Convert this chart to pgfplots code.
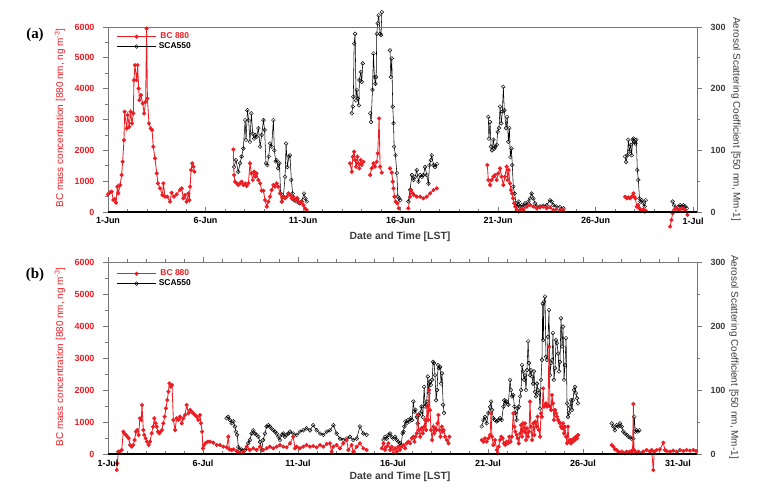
\documentclass[border=0pt]{standalone}
\usepackage{pgfplots}
\pgfplotsset{compat=1.18}
\usepackage{fontspec}
\setmainfont{Liberation Sans}
\newfontfamily\serifbf{Liberation Serif}
\definecolor{bcred}{RGB}{236,30,36}
\definecolor{axgray}{RGB}{120,120,120}
\definecolor{lblgray}{RGB}{60,60,60}

\pgfplotsset{
  panel/.style={scale only axis, width=589bp, xmin=0, ymin=0, clip=false, unbounded coords=jump,
     axis line style={axgray, line width=0.7pt}, tick style={axgray, line width=0.7pt},
     major tick length=5bp, minor tick length=3bp,
     tick label style={font=\fontsize{9}{10}\selectfont\bfseries},
     /pgf/number format/assume math mode=true, /pgf/number format/1000 sep={}, scaled y ticks=false},
  bcstyle/.style={bcred, line width=0.85pt, mark=*, mark size=1.6pt, mark options={solid, fill=bcred, draw=bcred}},
  scastyle/.style={black, line width=0.55pt, mark=o, mark size=1.9pt, mark options={solid, line width=0.45pt}},
  legimg/.style={legend image code/.code={\draw[mark repeat=2,mark phase=2,##1] plot coordinates {(0cm,0cm) (0.7cm,0cm) (1.4cm,0cm)};}},
}

\begin{document}
\begin{tikzpicture}
\path[use as bounding box] (0bp,0bp) rectangle (764bp,-495bp);

% ================= TOP PANEL (a) =================
\begin{axis}[panel, at={(108bp,-27bp)}, anchor=north west, height=185bp, xmax=30.2, ymax=300,
  axis y line*=right, axis x line=none, ytick={0,100,200,300}, minor ytick={50,150,250}, tick align=outside,
  yticklabel style={text=lblgray, xshift=5bp}]
\addplot[scastyle] coordinates {
(6.46,73) (6.56,84) (6.68,65) (6.77,79) (6.85,90) (6.94,103) (7.03,149) (7.08,117) (7.15,165) (7.21,149) (7.28,114) (7.35,160) (7.42,127) (7.49,119) (7.56,125) (7.62,122) (7.71,136) (7.80,106) (7.88,125) (7.97,149) (8.03,133) (8.10,79) (8.17,76) (8.24,90) (8.31,111) (8.39,106) (8.48,149) (8.53,100) (8.60,82) (8.65,84) (8.72,71) (8.79,79) (8.85,30) (8.92,17) (8.99,25) (9.08,57) (9.13,111) (9.20,73) (9.27,90) (9.33,92) (9.40,52) (9.47,30) (9.54,19) (9.64,17) (9.71,22) (9.81,14) (9.93,17) (10.05,30) (10.12,22) (10.19,17)
(11.0,nan)
(12.50,160) (12.55,171) (12.58,187) (12.62,273) (12.67,289) (12.72,181) (12.75,198) (12.81,184) (12.86,173) (12.89,214) (12.96,227) (13.01,211) (13.06,241)
(13.25,nan)
(13.44,160) (13.49,146) (13.56,198) (13.61,257) (13.66,219) (13.71,208) (13.75,219) (13.78,289) (13.83,306) (13.88,319) (13.95,289) (14.00,287) (14.04,324)
(14.25,nan)
(14.46,262) (14.50,219) (14.55,249) (14.60,171) (14.64,144) (14.67,106) (14.74,92) (14.81,63) (14.86,25) (14.93,22) (14.98,19)
(15.2,nan)
(15.40,17) (15.49,36) (15.58,60) (15.66,52) (15.75,57) (15.83,68) (15.92,49) (16.00,60) (16.09,57) (16.17,60) (16.26,73) (16.34,60) (16.43,46) (16.48,76) (16.55,84) (16.60,92) (16.69,76) (16.77,73) (16.86,78)
(18.0,nan)
(19.50,154) (19.53,119) (19.59,146) (19.64,106) (19.69,100) (19.76,117) (19.81,103) (19.86,106) (19.93,109) (19.98,130) (20.05,136) (20.10,171) (20.17,144) (20.22,163) (20.27,203) (20.32,165) (20.41,136) (20.47,154) (20.53,114) (20.58,136) (20.63,89) (20.68,103) (20.73,76) (20.78,41) (20.85,30) (20.92,14) (20.99,9) (21.06,17) (21.12,9) (21.21,11) (21.30,9) (21.38,14) (21.47,11) (21.55,17) (21.64,22) (21.72,30) (21.81,22) (21.89,14) (21.98,9) (22.15,9) (22.32,10) (22.49,11) (22.66,19) (22.75,17) (22.83,11) (22.98,9) (23.18,8) (23.35,6)
(25.0,nan)
(26.51,90) (26.56,81) (26.63,92) (26.68,117) (26.73,98) (26.80,109) (26.85,92) (26.90,117) (26.94,119) (26.99,114) (27.04,111) (27.09,117) (27.14,68) (27.19,52) (27.25,22) (27.30,17) (27.36,19) (27.45,14) (27.52,9) (27.57,19)
(28.2,nan)
(28.95,17) (29.02,11) (29.13,6) (29.25,9) (29.33,11) (29.42,9) (29.50,11) (29.59,9) (29.67,6)
};
\end{axis}

\begin{axis}[panel, at={(108bp,-27bp)}, anchor=north west, height=185bp, xmax=30.2, ymax=6000,
  ytick={0,1000,...,6000}, minor ytick={500,1500,...,5500}, ytick pos=left, xtick=\empty, tick align=outside,
  yticklabel style={text=bcred, xshift=-5bp}, legimg,
  legend style={at={(axis description cs:0.012,0.985)}, anchor=north west, draw=none, fill=none,
    font=\fontsize{8.5}{10}\selectfont\bfseries, inner sep=1pt, row sep=-1.5bp}]
\addplot[bcstyle] coordinates {
(0.00,572) (0.10,640) (0.19,659) (0.27,389) (0.35,420) (0.41,302) (0.48,821) (0.53,605) (0.62,875) (0.70,1199) (0.75,1631) (0.82,2333) (0.85,3251) (0.96,2711) (1.01,3143) (1.09,2765) (1.16,3251) (1.23,2873) (1.30,3197) (1.33,4277) (1.38,4763) (1.47,4277) (1.52,4763) (1.57,4007) (1.61,3629) (1.69,3791) (1.78,3521) (1.85,3197) (1.93,3575) (1.98,5951) (2.02,3683) (2.10,2873) (2.19,2711) (2.26,2657) (2.32,2117) (2.41,1739) (2.50,1253) (2.56,929) (2.67,767) (2.79,551) (2.84,929) (2.92,497) (3.04,497) (3.18,335) (3.26,626) (3.38,497) (3.52,572) (3.69,713) (3.78,767) (3.86,443) (3.95,551) (4.03,335) (4.12,605) (4.17,389) (4.21,821) (4.26,1361) (4.32,1577) (4.38,1469) (4.43,1307)
(5.0,nan)
(6.43,2030) (6.46,1199) (6.51,983) (6.60,929) (6.68,875) (6.77,929) (6.85,983) (6.94,875) (7.03,929) (7.11,842) (7.20,929) (7.28,1577) (7.35,1253) (7.42,1037) (7.49,1307) (7.56,1145) (7.62,1253) (7.71,1037) (7.80,929) (7.88,691) (7.97,691) (8.05,389) (8.14,173) (8.22,335) (8.31,497) (8.39,713) (8.48,875) (8.56,821) (8.65,929) (8.73,821) (8.82,605) (8.91,335) (8.99,497) (9.08,443) (9.16,497) (9.25,605) (9.33,551) (9.42,443) (9.50,497) (9.59,389) (9.68,443) (9.76,335) (9.85,281) (9.93,335) (10.02,227) (10.10,119) (10.19,65)
(11.0,nan)
(12.41,1577) (12.50,1307) (12.55,1793) (12.62,1955) (12.67,1685) (12.72,1469) (12.79,1793) (12.84,1577) (12.89,1415) (12.96,1685) (13.01,1523) (13.10,1631)
(13.25,nan)
(13.44,1199) (13.52,1415) (13.61,1577) (13.69,1469) (13.78,1631) (13.83,1901) (13.90,3035) (13.95,1469) (14.04,1275)
(14.25,nan)
(14.46,1415) (14.55,1275) (14.60,983) (14.64,767) (14.69,497) (14.75,335) (14.84,281) (14.91,119)
(15.2,nan)
(15.40,119) (15.49,497) (15.54,713) (15.63,605) (15.69,551) (15.83,497) (16.00,497) (16.17,443) (16.34,497) (16.52,605) (16.69,713) (16.86,767)
(18.0,nan)
(19.45,1523) (19.50,1037) (19.59,875) (19.67,1037) (19.76,1145) (19.84,1199) (19.93,1037) (20.01,1253) (20.10,1415) (20.18,1145) (20.27,875) (20.35,1145) (20.44,1469) (20.49,1037) (20.54,1361) (20.61,929) (20.66,713) (20.71,605) (20.77,443) (20.82,281) (20.88,173) (20.95,65) (21.04,11) (21.12,65) (21.21,119) (21.30,65) (21.47,173) (21.64,227) (21.81,173) (21.98,119) (22.15,151) (22.32,173) (22.49,119) (22.66,151) (22.83,65) (22.98,86) (23.18,65) (23.35,65)
(25.0,nan)
(26.51,497) (26.60,443) (26.68,475) (26.77,443) (26.85,497) (26.94,605) (26.99,497) (27.04,443) (27.11,173) (27.18,227) (27.25,119) (27.31,65) (27.38,43) (27.45,86) (27.52,11) (27.57,43)
(28.2,nan)
(28.82,-475) (28.89,-259) (28.95,-43) (29.02,65) (29.13,119) (29.25,65) (29.33,86) (29.47,119) (29.59,65) (29.71,-97)
};
\addlegendentry{\textcolor{bcred}{BC 880}}
\addlegendimage{scastyle}
\addlegendentry{SCA550}
\end{axis}

\begin{axis}[panel, at={(108bp,-27bp)}, anchor=north west, height=185bp, xmax=30.2, ymax=6000,
  axis x line*=bottom, axis y line=none, xtick={0,5,...,30},
  xticklabels={1-Jun,6-Jun,11-Jun,16-Jun,21-Jun,26-Jun,1-Jul}, minor x tick num=4, tick align=inside,
  x axis line style={black, line width=1.1pt}, xticklabel style={yshift=-2bp}]
\end{axis}

% ================= BOTTOM PANEL (b) =================
\begin{axis}[panel, at={(108bp,-262bp)}, anchor=north west, height=192bp, xmax=31, ymax=300,
  axis y line*=right, axis x line=none, ytick={0,100,200,300}, minor ytick={50,150,250}, tick align=outside,
  yticklabel style={text=lblgray, xshift=5bp}]
\addplot[scastyle] coordinates {
(6.24,56) (6.33,58) (6.42,53) (6.51,48) (6.60,51) (6.68,43) (6.73,35) (6.80,30) (6.86,11) (6.95,6) (7.03,7) (7.12,5) (7.21,6) (7.30,9) (7.38,17) (7.47,22) (7.56,32) (7.65,37) (7.73,32) (7.82,30) (7.91,27) (8.00,19) (8.09,6) (8.17,22) (8.26,32) (8.35,43) (8.44,45) (8.52,43) (8.61,40) (8.70,37) (8.79,35) (8.88,32) (8.96,27) (9.05,22) (9.14,30) (9.23,32) (9.31,27) (9.40,30) (9.49,32) (9.58,35) (9.75,32) (9.93,30) (10.10,35) (10.28,37) (10.45,40) (10.63,37) (10.80,45) (10.98,37) (11.16,32) (11.33,30) (11.51,35) (11.68,37) (11.86,45) (12.03,32) (12.21,24) (12.38,22) (12.56,24) (12.73,27) (12.91,22) (13.09,24) (13.26,43) (13.44,32) (13.61,30)
(14.0,nan)
(14.50,22) (14.58,27) (14.67,24) (14.76,30) (14.85,32) (14.93,27) (15.02,24) (15.11,27) (15.20,22) (15.28,19) (15.37,17) (15.43,14) (15.50,32) (15.55,35) (15.60,43) (15.65,51) (15.72,48) (15.79,53) (15.86,51) (15.93,56) (16.00,53) (16.07,82) (16.13,66) (16.18,69) (16.25,58) (16.30,48) (16.36,61) (16.43,64) (16.50,74) (16.57,58) (16.64,105) (16.69,74) (16.74,77) (16.78,82) (16.83,121) (16.88,95) (16.93,113) (16.99,108) (17.06,116) (17.11,144) (17.16,142) (17.21,123) (17.27,84) (17.32,100) (17.37,139) (17.43,134) (17.48,136) (17.53,110) (17.58,126) (17.64,77) (17.69,64)
(19.0,nan)
(19.67,43) (19.76,53) (19.84,58) (19.93,48) (20.02,64) (20.11,74) (20.16,82) (20.21,69) (20.28,56) (20.37,53) (20.46,51) (20.54,53) (20.63,56) (20.72,53) (20.81,74) (20.86,84) (20.91,79) (20.98,82) (21.07,77) (21.16,116) (21.21,100) (21.26,90) (21.33,92) (21.39,74) (21.44,64) (21.51,53) (21.56,71) (21.62,74) (21.69,90) (21.74,100) (21.79,139) (21.84,129) (21.90,116) (21.95,123) (22.00,100) (22.05,131) (22.11,176) (22.16,142) (22.21,123) (22.26,131) (22.32,121) (22.37,110) (22.42,129) (22.47,97) (22.53,90) (22.58,110) (22.63,100) (22.69,95) (22.74,71) (22.79,116) (22.84,147) (22.88,235) (22.91,178) (22.95,238) (23.00,246) (23.05,152) (23.11,147) (23.16,183) (23.21,225) (23.26,123) (23.32,142) (23.37,147) (23.42,189) (23.47,116) (23.53,134) (23.58,178) (23.63,173) (23.69,157) (23.74,129) (23.79,144) (23.84,212) (23.90,168) (23.95,199) (24.00,116) (24.05,139) (24.11,181) (24.16,79) (24.21,58) (24.26,64) (24.32,74) (24.37,84) (24.42,69) (24.47,84) (24.53,100) (24.58,105) (24.63,95) (24.69,87) (24.74,79)
(25.5,nan)
(26.51,48) (26.60,43) (26.68,37) (26.77,45) (26.86,43) (26.95,48) (27.03,43) (27.12,35) (27.21,32) (27.30,30) (27.38,27) (27.47,26) (27.56,24) (27.65,24) (27.70,58) (27.75,35) (27.82,37) (27.89,35) (27.96,37)
};
\end{axis}

\begin{axis}[panel, at={(108bp,-262bp)}, anchor=north west, height=192bp, xmax=31, ymax=6000,
  ytick={0,1000,...,6000}, minor ytick={500,1500,...,5500}, ytick pos=left, xtick=\empty, tick align=outside,
  yticklabel style={text=bcred, xshift=-5bp}, legimg,
  legend style={at={(axis description cs:0.012,0.975)}, anchor=north west, draw=none, fill=none,
    font=\fontsize{8.5}{10}\selectfont\bfseries, inner sep=1pt, row sep=-1.5bp}]
\addplot[bcstyle] coordinates {
(0.46,-500) (0.49,-292) (0.54,73) (0.63,73) (0.72,125) (0.81,698) (0.86,646) (0.95,594) (1.02,542) (1.09,490) (1.16,281) (1.25,229) (1.33,281) (1.40,438) (1.47,698) (1.54,750) (1.61,594) (1.68,1115) (1.75,1063) (1.79,1531) (1.86,750) (1.91,594) (1.98,490) (2.05,385) (2.14,281) (2.21,385) (2.30,646) (2.37,854) (2.44,1115) (2.51,958) (2.56,854) (2.63,698) (2.70,646) (2.77,698) (2.84,750) (2.91,958) (2.98,1167) (3.05,1427) (3.12,1688) (3.18,1948) (3.23,2208) (3.30,2104) (3.37,2156) (3.44,1063) (3.53,750) (3.61,1115) (3.70,1063) (3.79,1167) (3.88,958) (3.96,1115) (4.05,1219) (4.14,1531) (4.23,1271) (4.32,1375) (4.40,1323) (4.49,1271) (4.58,1219) (4.67,1167) (4.75,1063) (4.84,1219) (4.89,958) (4.95,698) (5.00,177) (5.05,281) (5.16,354) (5.26,385) (5.37,385) (5.54,354) (5.72,281) (5.89,281) (6.07,229) (6.25,208) (6.33,541) (6.39,146) (6.51,125) (6.60,146) (6.77,94) (6.86,42) (6.95,21) (7.12,73) (7.30,229) (7.47,125) (7.65,177) (7.82,125) (8.00,229) (8.17,125) (8.35,177) (8.52,229) (8.70,177) (8.88,229) (9.05,281) (9.23,229) (9.40,208) (9.58,333) (9.75,542) (9.84,177) (9.93,229) (10.10,177) (10.28,229) (10.45,281) (10.63,229) (10.80,250) (10.98,208) (11.16,281) (11.33,229) (11.51,313) (11.68,333) (11.77,73) (11.86,229) (12.03,281) (12.21,177) (12.38,333) (12.56,437) (12.65,125) (12.82,281) (12.91,73) (13.09,229) (13.26,333) (13.44,177) (13.61,125)
(14.0,nan)
(14.41,177) (14.50,333) (14.58,125) (14.67,229) (14.76,333) (14.85,125) (14.93,229) (15.02,21) (15.11,177) (15.20,73) (15.28,229) (15.37,125) (15.46,229) (15.55,281) (15.64,177) (15.72,333) (15.81,385) (15.90,333) (15.99,490) (16.07,542) (16.13,385) (16.18,542) (16.25,646) (16.30,1219) (16.36,750) (16.43,542) (16.50,802) (16.57,646) (16.64,854) (16.69,1063) (16.74,750) (16.79,1479) (16.85,1063) (16.90,2000) (16.95,1375) (17.00,750) (17.06,438) (17.13,854) (17.18,646) (17.23,802) (17.28,750) (17.34,958) (17.39,1219) (17.44,750) (17.50,542) (17.57,854) (17.62,698) (17.67,750) (17.74,542) (17.83,438) (17.92,333) (17.97,542)
(19.0,nan)
(19.67,438) (19.76,385) (19.84,490) (19.93,385) (20.02,490) (20.11,594) (20.16,1271) (20.21,542) (20.28,281) (20.37,438) (20.46,125) (20.51,21) (20.56,229) (20.63,438) (20.70,542) (20.77,490) (20.84,333) (20.91,281) (20.98,385) (21.05,333) (21.12,542) (21.19,385) (21.26,542) (21.33,1271) (21.39,854) (21.44,698) (21.51,594) (21.56,490) (21.62,333) (21.69,646) (21.74,906) (21.79,542) (21.84,958) (21.90,698) (21.95,958) (22.00,438) (22.05,802) (22.11,542) (22.16,698) (22.21,1635) (22.26,854) (22.32,438) (22.39,958) (22.44,594) (22.49,1010) (22.56,854) (22.61,1167) (22.67,750) (22.74,542) (22.79,1271) (22.84,1167) (22.90,2052) (22.95,1479) (23.00,1531) (23.05,1583) (23.11,1479) (23.16,1531) (23.21,3354) (23.26,1479) (23.32,1375) (23.37,1844) (23.42,1583) (23.47,1063) (23.53,1375) (23.58,1271) (23.63,1167) (23.69,1063) (23.74,1010) (23.79,958) (23.84,854) (23.90,802) (23.95,958) (24.00,646) (24.05,854) (24.11,542) (24.16,333) (24.21,854) (24.26,385) (24.32,438) (24.37,333) (24.42,438) (24.47,385) (24.53,490) (24.58,438) (24.63,542) (24.69,490) (24.74,594)
(25.5,nan)
(26.51,281) (26.60,229) (26.68,146) (26.77,125) (26.86,73) (26.95,42) (27.03,73) (27.12,42) (27.21,21) (27.30,73) (27.38,42) (27.47,73) (27.56,21) (27.61,125) (27.65,1563) (27.68,125) (27.75,73) (27.82,21) (27.91,73) (27.98,42) (28.17,73) (28.35,125) (28.52,73) (28.61,125) (28.70,-500) (28.75,73) (28.88,125) (29.05,146) (29.23,354) (29.31,125) (29.40,94) (29.58,73) (29.75,104) (29.93,73) (30.10,125) (30.28,94) (30.45,125) (30.63,104) (30.81,125) (30.95,94)
};
\addlegendentry{\textcolor{bcred}{BC 880}}
\addlegendimage{scastyle}
\addlegendentry{SCA550}
\end{axis}

\begin{axis}[panel, at={(108bp,-262bp)}, anchor=north west, height=192bp, xmax=31, ymax=6000,
  axis x line*=bottom, axis y line=none, xtick={0,5,...,30},
  xticklabels={1-Jul,6-Jul,11-Jul,16-Jul,21-Jul,26-Jul,31-Jul}, minor x tick num=4, tick align=inside,
  x axis line style={black, line width=1.1pt}, xticklabel style={yshift=-2bp}]
\end{axis}
\begin{axis}[panel, at={(108bp,-262bp)}, anchor=north west, height=192bp, xmax=31, ymax=6000,
  axis x line*=top, axis y line=none, xtick={0,5,...,30}, xticklabels={}, minor x tick num=4, tick align=outside]
\end{axis}

% ================= labels =================
\node[font=\serifbf\fontsize{15}{17}\selectfont\bfseries] at (35bp,-35bp) {(a)};
\node[font=\serifbf\fontsize{15}{17}\selectfont\bfseries] at (35bp,-275bp) {(b)};
\node[rotate=90, text=bcred, font=\fontsize{10}{11}\selectfont] at (60bp,-118bp) {BC mass concentration [880 nm, ng m\textsuperscript{-3}]};
\node[rotate=90, text=bcred, font=\fontsize{10}{11}\selectfont] at (60bp,-357bp) {BC mass concentration [880 nm, ng m\textsuperscript{-3}]};
\node[rotate=-90, text=lblgray, font=\fontsize{10}{11}\selectfont] at (736bp,-119bp) {Aerosol Scattering Coefficient [550 nm, Mm-1]};
\node[rotate=-90, text=lblgray, font=\fontsize{10}{11}\selectfont] at (734bp,-357bp) {Aerosol Scattering Coefficient [550 nm, Mm-1]};
\node[text=lblgray, font=\fontsize{10.5}{12}\selectfont\bfseries] at (400bp,-237bp) {Date and Time [LST]};
\node[text=lblgray, font=\fontsize{10.5}{12}\selectfont\bfseries] at (400bp,-477bp) {Date and Time [LST]};
\end{tikzpicture}
\end{document}
